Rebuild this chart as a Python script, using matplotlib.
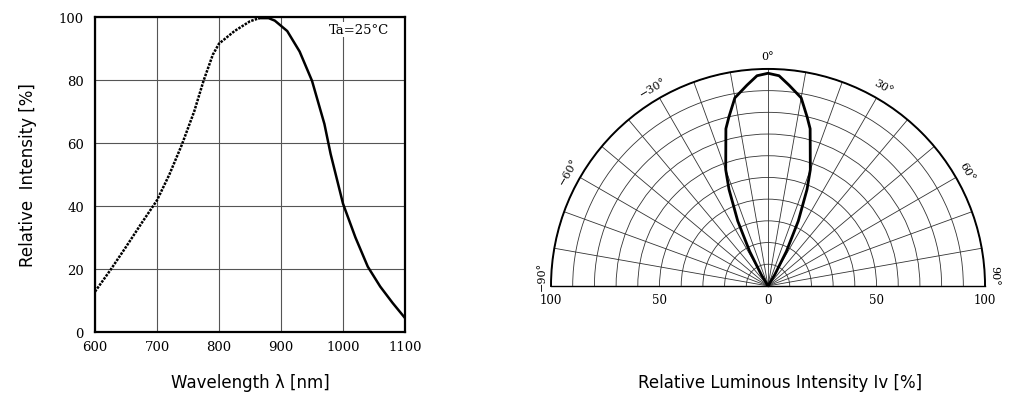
import numpy as np
import matplotlib
matplotlib.use("Agg")
import matplotlib.pyplot as plt

# spectral curve (dotted part, then solid part)
wl_dot = [600, 625, 650, 675, 700, 720, 740, 760, 775, 790, 800, 825, 850, 865]
int_dot = [12.8, 19.7, 27, 34.5, 41.8, 50, 59.4, 70, 79.7, 88, 91.5, 95.5, 98.6, 99.6]
wl_sol = [865, 880, 890, 910, 930, 950, 970, 980, 1000, 1020, 1040, 1060, 1080, 1100]
int_sol = [99.6, 99.6, 98.8, 95.5, 89, 79.7, 66, 56.5, 40.7, 30, 20.7, 14.4, 9.2, 4.4]

# radiation pattern (degrees, relative intensity %)
ang = [-35, -31, -28, -25, -22, -20, -15, -13, -10, -6, -3, 0, 3, 6, 10, 13, 15, 20, 22, 25, 28, 31, 35]
lum = [0, 6, 18, 33, 48, 57, 75, 80, 88, 93, 97, 98, 97, 93, 88, 80, 75, 57, 48, 33, 18, 6, 0]

serif = "DejaVu Serif"
fig = plt.figure(figsize=(10.23, 4.06), dpi=100)

ax = fig.add_axes([0.0929, 0.180, 0.303, 0.776])
ax.plot(wl_dot, int_dot, color="black", lw=1.8, ls=(0, (1, 0.5)))
ax.plot(wl_sol, int_sol, color="black", lw=1.8)
ax.set_xlim(600, 1100)
ax.set_ylim(0, 100)
ax.set_xticks(range(600, 1101, 100))
ax.set_yticks(range(0, 101, 20))
ax.grid(True, color="#555555", lw=0.8)
for t in ax.get_xticklabels() + ax.get_yticklabels():
    t.set_fontfamily(serif)
    t.set_fontsize(9.5)
ax.tick_params(axis="x", length=0, pad=6)
ax.tick_params(axis="y", length=0, pad=8)
for s in ax.spines.values():
    s.set_linewidth(1.6)
ax.set_xlabel("Wavelength λ [nm]", fontsize=12, labelpad=14)
ax.set_ylabel("Relative  Intensity [%]", fontsize=12, labelpad=16)
ax.text(1025, 96, "Ta=25°C", fontfamily=serif, fontsize=9.5, ha="center", va="center",
        bbox=dict(facecolor="white", edgecolor="none", pad=1))

pax = fig.add_axes([0.3265, 0.026, 0.8485, 1.069], projection="polar")
pax.set_theta_zero_location("N")
pax.set_theta_direction(-1)
pax.set_thetalim(-np.pi / 2, np.pi / 2)
pax.set_rlim(0, 100)
pax.set_thetagrids(np.arange(-90, 91, 10), labels=[""] * 19)
pax.set_rgrids(np.arange(10, 101, 10), labels=[""] * 10)
pax.grid(True, color="#333333", lw=0.6)
pax.spines["polar"].set_linewidth(1.4)
pax.spines["start"].set_linewidth(1.0)
pax.spines["end"].set_linewidth(1.0)
pax.spines["inner"].set_visible(False)
pax.plot(np.radians(ang), lum, color="black", lw=2)
for a in [-60, -30, 0, 30, 60]:
    lab = f"{a}°" if a >= 0 else f"−{-a}°"
    pax.text(np.radians(a), 106, lab, fontfamily=serif, fontsize=8,
             ha="center", va="center", rotation=-a)
for a in [-90, 90]:
    lab = f"{a}°" if a >= 0 else f"−{-a}°"
    pax.text(np.radians(a * 0.97), 104.5, lab, fontfamily=serif, fontsize=8,
             ha="center", va="center", rotation=-a)
for r, a in [(100, -90), (50, -90), (0, 0), (50, 90), (100, 90)]:
    pax.annotate(str(r), xy=(np.radians(a), r), xytext=(0, -5), textcoords="offset points",
                 fontfamily=serif, fontsize=8.5, ha="center", va="top")
fig.text(0.7625, 0.045, "Relative Luminous Intensity Iv [%]", fontsize=12, ha="center")

fig.savefig("out.png", dpi=100)
